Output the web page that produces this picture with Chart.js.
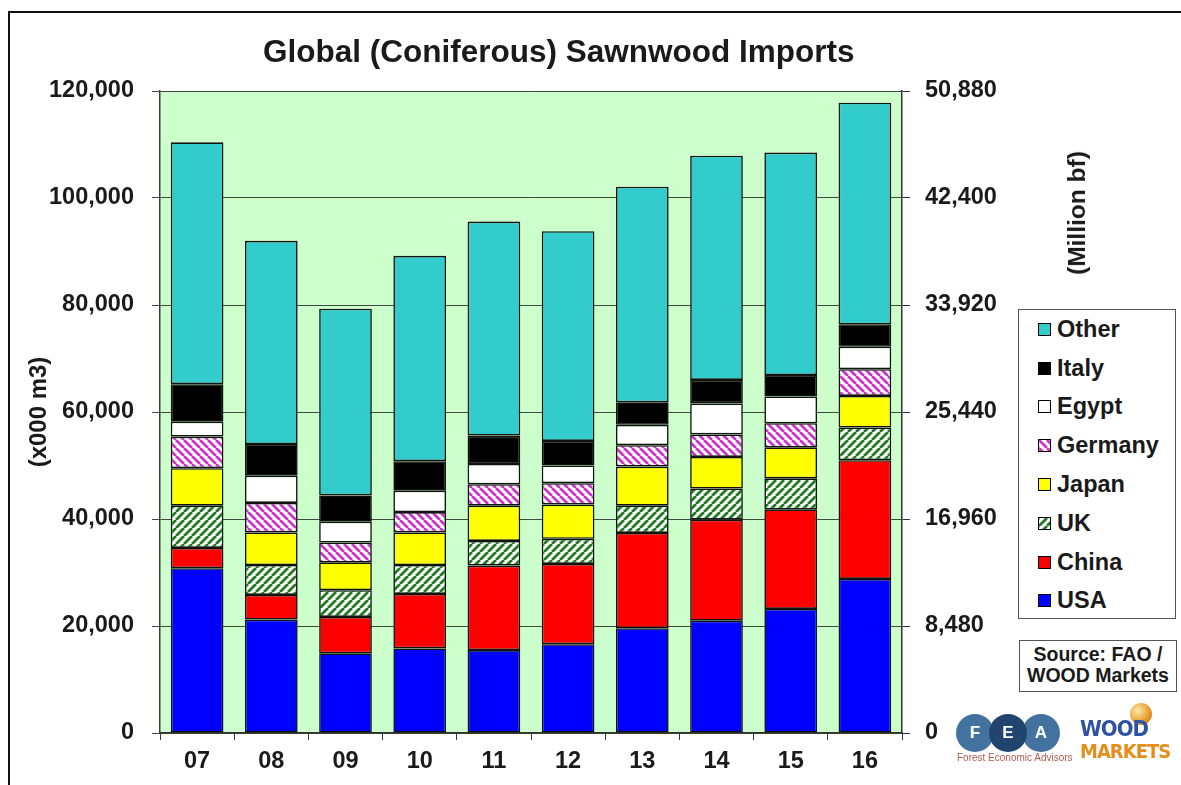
<!DOCTYPE html>
<html>
<head>
<meta charset="utf-8">
<title>Global (Coniferous) Sawnwood Imports</title>
<script src="https://cdn.jsdelivr.net/npm/chart.js@4.4.1/dist/chart.umd.min.js"></script>
<style>
  body { margin: 0; background: #fff; font-family: Arial, "Liberation Sans", sans-serif; color: #1a1a1a; }
  #wrap { position: relative; width: 1181px; height: 785px; overflow: hidden; }
  #frame { position: absolute; left: 8px; top: 11px; width: 1400px; height: 1000px;
           border-left: 2px solid #111; border-top: 2px solid #111; }
  #chart { position: absolute; left: 0; top: 0; }
  .title { position: absolute; left: 263px; top: 33px; font-weight: bold; font-size: 31.5px; white-space: nowrap; }
  .ytitle-r { position: absolute; left: 1077px; top: 213px; font-weight: bold; font-size: 24.5px;
              transform: translate(-50%, -50%) rotate(-90deg); white-space: nowrap; }
  #legend { position: absolute; left: 1018px; top: 309px; width: 158px; height: 310px;
            border: 1.5px solid #555; background: #fff; box-sizing: border-box; }
  #legend .row { height: 38.8px; display: flex; align-items: center; font-weight: bold; font-size: 23.5px; }
  #legend .sw { width: 11px; height: 11px; border: 1px solid #000; margin: 0 6px 0 19px; background-size: 8px 8px; }
  .source { position: absolute; left: 1019px; top: 640px; width: 158px; height: 52px; box-sizing: border-box;
            border: 1.5px solid #555; font-weight: bold; font-size: 19.5px; line-height: 21px;
            text-align: center; padding-top: 3px; background: #fff; white-space: nowrap; }
  .fea { position: absolute; top: 714px; width: 38px; height: 38px; border-radius: 50%;
         color: #fff; font-weight: bold; font-size: 17px; line-height: 38px; text-align: center; }
  .fea-sub { position: absolute; left: 957px; top: 752px; font-size: 10px; color: #b35a50; white-space: nowrap; }
  .wm { position: absolute; left: 1080px; font-family: "DejaVu Sans Condensed", "DejaVu Sans", sans-serif;
        font-weight: 900; letter-spacing: -1px; white-space: nowrap; }
  .globe { position: absolute; left: 1130px; top: 703px; width: 22px; height: 22px; border-radius: 50%;
           background: radial-gradient(circle at 35% 35%, #ffe7a8, #e59a2a 60%, #b86d12); }
</style>
</head>
<body>
<div id="wrap">
  <div id="frame"></div>
  <canvas id="chart" width="1181" height="785"></canvas>
  <div class="title">Global (Coniferous) Sawnwood Imports</div>
  <div class="ytitle-r">(Million bf)</div>
  <div id="legend"></div>
  <div class="source">Source: FAO /<br>WOOD Markets</div>

  <div class="fea" style="left:956px;background:#44729e;">F</div>
  <div class="fea" style="left:1022px;background:#44729e;">A</div>
  <div class="fea" style="left:989px;background:#22456f;">E</div>
  <div class="fea-sub">Forest Economic Advisors</div>
  <div class="globe"></div>
  <div class="wm" style="top:716px;font-size:22px;color:#2d52a3;">WOOD</div>
  <div class="wm" style="top:739px;font-size:20px;color:#e58e1c;">MARKETS</div>
</div>

<script>
// imports, thousand m3
var years   = ['07', '08', '09', '10', '11', '12', '13', '14', '15', '16'];
var usa     = [30800, 21200, 14900, 15800, 15500, 16600, 19600, 21000, 23200, 28800];
var china   = [ 3800,  4600,  6800, 10200, 15800, 15000, 17800, 18900, 18600, 22200];
var uk      = [ 7900,  5600,  5000,  5400,  4600,  4700,  5100,  5800,  5800,  6100];
var japan   = [ 7000,  6100,  5200,  6100,  6600,  6400,  7300,  5900,  5800,  5900];
var germany = [ 5900,  5500,  3700,  3800,  4000,  4000,  4000,  4200,  4500,  5000];
var egypt   = [ 2800,  5100,  3900,  4000,  3800,  3300,  3800,  5800,  5000,  4200];
var italy   = [ 7000,  5900,  4900,  5500,  5300,  4600,  4200,  4400,  4000,  4200];
var other   = [45200, 38000, 34900, 38400, 40000, 39200, 40300, 41900, 41600, 41400];

// right axis in million board feet (120,000 m3 = 50,880 bf)
var bfMax = 50880;
var bfStep = 8480;

// diagonal hatch tile, dir 1 = "/", dir -1 = "\"
function hatch(fg, dir) {
	var s = 8;
	var c = document.createElement('canvas');
	c.width = s; c.height = s;
	var g = c.getContext('2d');
	g.fillStyle = '#ffffff';
	g.fillRect(0, 0, s, s);
	g.strokeStyle = fg;
	g.lineWidth = 2.8;
	g.beginPath();
	for (var k = -1; k <= 1; k++) {
		if (dir > 0) { g.moveTo(k * s, s); g.lineTo(k * s + s, 0); }
		else { g.moveTo(k * s, 0); g.lineTo(k * s + s, s); }
	}
	g.stroke();
	return c;
}
var ukTile = hatch('#1f7a1f', 1);
var deTile = hatch('#cc33cc', -1);
var ctx = document.getElementById('chart').getContext('2d');
var ukFill = ctx.createPattern(ukTile, 'repeat');
var deFill = ctx.createPattern(deTile, 'repeat');

var series = [
	{ label: 'USA',     data: usa,     fill: '#0000ff' },
	{ label: 'China',   data: china,   fill: '#ff0000' },
	{ label: 'UK',      data: uk,      fill: ukFill, tile: ukTile },
	{ label: 'Japan',   data: japan,   fill: '#ffff00' },
	{ label: 'Germany', data: germany, fill: deFill, tile: deTile },
	{ label: 'Egypt',   data: egypt,   fill: '#ffffff' },
	{ label: 'Italy',   data: italy,   fill: '#000000' },
	{ label: 'Other',   data: other,   fill: '#33cccc' }
];

var datasets = series.map(function (s) {
	return {
		label: s.label,
		data: s.data,
		backgroundColor: s.fill,
		borderColor: '#111',
		borderWidth: 1.6,
		borderSkipped: false,
		categoryPercentage: 1.0,
		barPercentage: 0.71,
		yAxisID: 'y'
	};
});

// html legend, top entry is the top of the stack
var legend = document.getElementById('legend');
series.slice().reverse().forEach(function (s) {
	var row = document.createElement('div');
	row.className = 'row';
	var sw = document.createElement('span');
	sw.className = 'sw';
	if (s.tile) sw.style.backgroundImage = 'url(' + s.tile.toDataURL() + ')';
	else sw.style.background = s.fill;
	row.appendChild(sw);
	row.appendChild(document.createTextNode(s.label));
	legend.appendChild(row);
});

var plotBg = {
	id: 'plotBg',
	beforeDraw: function (chart) {
		var a = chart.chartArea;
		chart.ctx.save();
		chart.ctx.fillStyle = '#ccffcc';
		chart.ctx.fillRect(a.left, a.top, a.right - a.left, a.bottom - a.top);
		chart.ctx.restore();
	}
};

var tickFont = { family: 'Arial, "Liberation Sans", sans-serif', size: 23.5, weight: 'bold' };

new Chart(ctx, {
	type: 'bar',
	data: { labels: years, datasets: datasets },
	plugins: [plotBg],
	options: {
		responsive: false,
		animation: false,
		locale: 'en-US',
		layout: { padding: { top: 91, left: 0, right: 0, bottom: 0 } },
		plugins: {
			legend: { display: false },
			title: { display: false },
			tooltip: { enabled: false }
		},
		scales: {
			x: {
				stacked: true,
				afterFit: function (scale) { scale.height = 52; },
				grid: { offset: true, drawOnChartArea: false, drawTicks: true, tickLength: 7, color: '#333' },
				border: { color: '#333', width: 1.5 },
				ticks: { font: tickFont, color: '#1a1a1a', padding: 7 }
			},
			y: {
				stacked: true,
				min: 0,
				max: 120000,
				afterFit: function (scale) { scale.width = 160; },
				ticks: {
					stepSize: 20000,
					font: tickFont,
					color: '#1a1a1a',
					padding: 18,
					callback: function (v) { return v.toLocaleString('en-US'); }
				},
				grid: { color: '#3d4a3d', lineWidth: 1, tickLength: 8 },
				border: { color: '#334433', width: 1.5 },
				title: {
					display: true,
					text: '(x000 m3)',
					font: { family: 'Arial, "Liberation Sans", sans-serif', size: 24, weight: 'bold' },
					color: '#1a1a1a',
					padding: { top: 25, bottom: 0 }
				}
			},
			y1: {
				position: 'right',
				min: 0,
				max: bfMax,
				afterFit: function (scale) { scale.width = 279; },
				ticks: {
					stepSize: bfStep,
					font: tickFont,
					color: '#1a1a1a',
					padding: 15,
					callback: function (v) { return v.toLocaleString('en-US'); }
				},
				grid: { drawOnChartArea: false, tickLength: 8, color: '#333' },
				border: { color: '#333', width: 1.5 }
			}
		}
	}
});
</script>
</body>
</html>
